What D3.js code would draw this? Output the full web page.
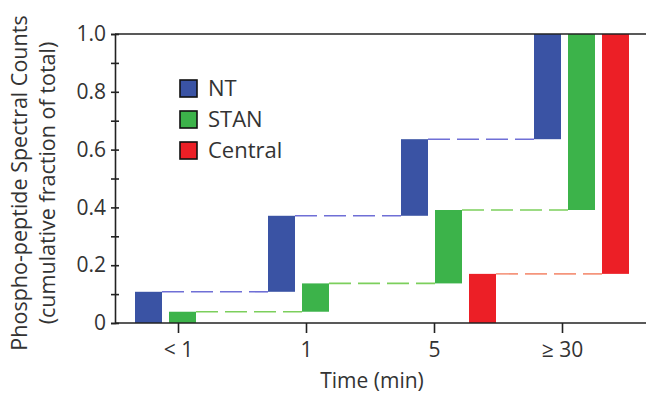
<!DOCTYPE html>
<html>
<head>
<meta charset="utf-8">
<script src="https://cdn.jsdelivr.net/npm/d3@7"></script>
<style>
  html, body { margin: 0; padding: 0; background: #fff; }
  svg { display: block; font-family: 'Open Sans', sans-serif; }
</style>
</head>
<body>
<svg id="chart"></svg>
<script>
// categories and cumulative fractions
const timeBins = ['< 1', '1', '5', '≥ 30']
const seriesNames = ['NT', 'STAN', 'Central']
const ntValues = [0.108, 0.371, 0.636, 1.0]
const stanValues = [0.039, 0.137, 0.391, 1.0]
const centralValues = [0, 0, 0.17, 1.0]
const yMajorTicks = [0, 0.2, 0.4, 0.6, 0.8, 1.0]
const yMinorTicks = [0.1, 0.3, 0.5, 0.7, 0.9]

const colors = { NT: '#3a53a4', STAN: '#3cb34a', Central: '#ec1f26' }
const dashColors = { NT: '#6f6fd6', STAN: '#7ccf5c', Central: '#f5957c' }
const textColor = '#333'

const width = 646
const height = 394
const margin = { left: 115, right: 0, top: 34, bottom: 71 }

const svg = d3.select('#chart').attr('width', width).attr('height', height)

const series = [
  { name: 'NT', values: ntValues },
  { name: 'STAN', values: stanValues },
  { name: 'Central', values: centralValues },
]

// group position of each time bin
const x = d3.scaleBand().domain(timeBins).range([margin.left, width + 1]).padding(0)
// position of each series inside a group
const xs = d3.scaleBand().domain(seriesNames).range([20, 115]).paddingInner(0.206).paddingOuter(0)
// the tick marks in the original sit on their own spacing
const xTick = d3.scalePoint().domain(timeBins).range([178, 562]).padding(0)

const y = d3.scaleLinear().domain([0, 1]).range([height - margin.bottom, margin.top])

// bars: each step spans previous cumulative value -> current value
const bars = []
const dashes = []
series.forEach((s) => {
  s.values.forEach((v, i) => {
    const prev = i === 0 ? 0 : s.values[i - 1]
    if (v > prev) bars.push({ name: s.name, bin: timeBins[i], y0: prev, y1: v })
    if (i < s.values.length - 1 && v > 0) {
      dashes.push({ name: s.name, from: timeBins[i], to: timeBins[i + 1], v })
    }
  })
})

svg.append('g')
  .selectAll('line')
  .data(dashes)
  .join('line')
  .attr('x1', (d) => x(d.from) + xs(d.name) + xs.bandwidth())
  .attr('x2', (d) => x(d.to) + xs(d.name))
  .attr('y1', (d) => y(d.v))
  .attr('y2', (d) => y(d.v))
  .attr('stroke', (d) => dashColors[d.name])
  .attr('stroke-width', 1.6)
  .attr('stroke-dasharray', '22,7')

svg.append('g')
  .selectAll('rect')
  .data(bars)
  .join('rect')
  .attr('x', (d) => x(d.bin) + xs(d.name))
  .attr('width', xs.bandwidth())
  .attr('y', (d) => y(d.y1))
  .attr('height', (d) => y(d.y0) - y(d.y1))
  .attr('fill', (d) => colors[d.name])

// top frame line
svg.append('line')
  .attr('x1', margin.left).attr('x2', width)
  .attr('y1', y(1)).attr('y2', y(1))
  .attr('stroke', '#222').attr('stroke-width', 1.6)

// y axis
const yAxis = svg.append('g')
  .attr('transform', `translate(${margin.left},0)`)
  .call(d3.axisLeft(y).tickValues(yMajorTicks.concat(yMinorTicks)).tickSize(4).tickPadding(5)
    .tickFormat((d) => (yMajorTicks.includes(d) ? (d === 0 ? '0' : d3.format('.1f')(d)) : '')))
yAxis.select('.domain').attr('stroke', '#222').attr('stroke-width', 1.6)
yAxis.selectAll('.tick line').attr('x1', 4).attr('x2', -4).attr('stroke', '#222').attr('stroke-width', 1.6)
yAxis.selectAll('.tick text').attr('font-size', 21).attr('fill', textColor)
  .attr('font-family', "'Open Sans', sans-serif")

// x axis
const xAxis = svg.append('g')
  .attr('transform', `translate(0,${y(0)})`)
  .call(d3.axisBottom(xTick).tickSize(10).tickPadding(9))
xAxis.select('.domain').attr('d', `M${margin.left},0H${width}`).attr('stroke', '#222').attr('stroke-width', 1.6)
xAxis.selectAll('.tick line').attr('stroke', '#222').attr('stroke-width', 1.6)
xAxis.selectAll('.tick text').attr('font-size', 21).attr('fill', textColor)
  .attr('font-family', "'Open Sans', sans-serif")

// axis titles
svg.append('text')
  .attr('x', 372).attr('y', 388)
  .attr('text-anchor', 'middle')
  .attr('font-size', 21).attr('fill', textColor)
  .text('Time (min)')

const yTitle = svg.append('text')
  .attr('transform', 'translate(0,183) rotate(-90)')
  .attr('text-anchor', 'middle')
  .attr('font-size', 21.5).attr('fill', textColor)
yTitle.append('tspan').attr('x', 0).attr('y', 27).text('Phospho-peptide Spectral Counts')
yTitle.append('tspan').attr('x', 0).attr('y', 55).text('(cumulative fraction of total)')

// legend
const legend = svg.append('g').attr('transform', 'translate(180,80)')
const item = legend.selectAll('g')
  .data(seriesNames)
  .join('g')
  .attr('transform', (d, i) => `translate(0,${i * 31})`)
item.append('rect')
  .attr('width', 17).attr('height', 17)
  .attr('fill', (d) => colors[d])
  .attr('stroke', '#111').attr('stroke-width', 1.6)
item.append('text')
  .attr('x', 28).attr('y', 16)
  .attr('font-size', 22).attr('fill', textColor)
  .text((d) => d)
</script>
</body>
</html>
